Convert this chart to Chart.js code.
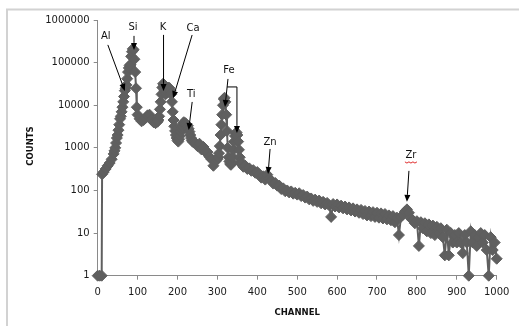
<!DOCTYPE html>
<html>
<head>
<meta charset="utf-8">
<script src="https://cdn.jsdelivr.net/npm/chart.js@4.4.1/dist/chart.umd.min.js"></script>
<style>
  body { margin: 0; background: #fff; }
  canvas { display: block; }
</style>
</head>
<body>
<canvas id="spectrum" width="519" height="326"></canvas>
<script>
// channel numbers and counts (denser around the peaks)
const channels = [
    0, 5, 10, 11, 15, 20, 25, 30, 35,
    40, 42, 44, 46, 48, 50, 52, 54, 56, 58, 60, 62, 64, 66, 68, 70,
    72, 74, 76, 78, 80, 82, 84, 86, 88, 90, 92, 94, 96, 98, 100,
    105, 110, 115, 120, 125, 130, 135, 140, 145,
    150, 152, 154, 156, 158, 160, 162, 164, 166, 168, 170, 172, 174, 176, 178, 180,
    182, 184, 186, 188, 190, 192, 194, 196, 198, 200, 202, 204, 206, 208, 210,
    212, 214, 216, 218, 220, 222, 224, 226, 228, 230, 232, 234, 236, 238, 240,
    245, 250, 255, 260, 265, 270, 275, 280, 285, 290, 295,
    300, 302, 304, 306, 308, 310, 312, 314, 316, 318, 320, 322, 324, 326, 328, 330,
    332, 334, 336, 338, 340, 342, 344, 346, 348, 350, 352, 354, 356, 358, 360,
    365, 370, 375, 380, 385, 390, 395, 400,
    405, 410, 415, 420, 425, 430, 435, 440, 445, 450,
    455, 460, 465, 470, 475, 480, 485, 490, 495, 500,
    505, 510, 515, 520, 525, 530, 535, 540, 545, 550,
    555, 560, 565, 570, 575, 580, 585, 590, 595, 600,
    605, 610, 615, 620, 625, 630, 635, 640, 645, 650,
    655, 660, 665, 670, 675, 680, 685, 690, 695, 700,
    705, 710, 715, 720, 725, 730, 735, 740, 745, 750,
    755, 760, 765, 770, 775, 780, 785, 790, 795, 800,
    805, 810, 815, 820, 825, 830, 835, 840, 845, 850,
    855, 860, 865, 870, 875, 880, 885, 890, 895, 900,
    905, 910, 915, 920, 925, 930, 935, 940, 945, 950,
    955, 960, 965, 970, 975, 980, 985, 990, 995, 1000
];
const counts = [
    1, 1, 1, 240, 270, 320, 380, 440, 540,
    720, 850, 1000, 1300, 1700, 2000, 2600, 3500, 4800, 5500, 7000, 9000, 12000, 16000, 22000, 25000,
    30000, 42000, 60000, 75000, 85000, 90000, 140000, 180000, 210000, 200000, 120000, 60000, 25000, 9000, 6000,
    4800, 4200, 4500, 5000, 5800, 6000, 4600, 4000, 3800,
    4100, 4500, 5500, 8000, 12000, 18000, 26000, 32000, 30000, 22000, 18000, 19000, 22000, 24000, 26000, 25000,
    22000, 18000, 12000, 7000, 4500, 3200, 2500, 2000, 1700, 1500, 1400, 1600, 1900, 2400, 2800,
    3200, 3800, 4000, 3600, 3800, 3400, 3000, 3300, 2800, 2400, 2000, 1700, 1500, 1400, 1350,
    1300, 1100, 1250, 920, 1050, 800, 800, 620, 540, 380, 480,
    540, 600, 750, 1100, 2000, 3500, 6000, 10000, 14000, 15000, 12000, 6000, 2500, 1000, 600, 480,
    420, 400, 450, 600, 900, 1400, 1900, 2200, 2300, 2000, 1400, 900, 600, 480, 420,
    360, 380, 320, 330, 290, 300, 260, 270,
    240, 200, 215, 180, 235, 190, 170, 145, 150, 130,
    130, 108, 112, 96, 100, 90, 95, 84, 88, 80,
    86, 74, 78, 68, 72, 62, 65, 57, 61, 54,
    58, 50, 54, 47, 51, 45, 24, 48, 42, 47,
    40, 44, 38, 42, 36, 40, 34, 38, 32, 36,
    30, 35, 28, 33, 26, 32, 25, 31, 24, 30,
    23, 29, 22, 28, 21, 26, 20, 25, 18, 23,
    9, 24, 27, 32, 36, 30, 22, 20, 17, 19,
    5, 18, 13, 17, 11, 16, 10, 15, 9, 14,
    10, 13, 8, 3, 12, 3, 10, 6, 9, 6,
    10, 6, 3.4, 9, 6, 1, 11, 6, 9, 5,
    8, 10, 6, 9, 4, 1, 8, 4, 6, 2.5
];
const yTicks = [1, 10, 100, 1000, 10000, 100000, 1000000];

// element labels and where their arrows point (channel, counts)
const elements = ['Al', 'Si', 'K', 'Ca', 'Ti', 'Fe', 'Zn', 'Zr'];
const tipChannels = [68, 91, 165, 189, 228, 319, 427, 775];
const tipCounts = [21700, 199000, 21700, 14800, 2630, 9120, 244, 54];
const feBetaChannel = 349;
const feBetaCounts = 2240;

// pixel offsets from the tip: [tailDx, tailDy, textDx, textDy]
const arrowLayout = [
    [-17, -46, -19, -54],
    [0, -14, -1, -22],
    [0, -56, -0.5, -63],
    [19, -63, 20, -70],
    [3.5, -28, 2.5, -36],
    [3, -28, 4, -37],
    [2, -25, 2, -32],
    [2, -31, 4, -46]
];

const GREY = '#5f5f5f';
const AXIS = '#8a8a8a';
const FONT = 'DejaVu Sans';

const points = channels.map((c, i) => ({ x: c, y: counts[i] }));

function arrow(ctx, x1, y1, x2, y2) {
    const ang = Math.atan2(y2 - y1, x2 - x1);
    const len = 7, half = 3;
    const bx = x2 - Math.cos(ang) * len, by = y2 - Math.sin(ang) * len;
    ctx.beginPath();
    ctx.moveTo(x1, y1);
    ctx.lineTo(bx, by);
    ctx.stroke();
    ctx.beginPath();
    ctx.moveTo(x2, y2);
    ctx.lineTo(bx + Math.sin(ang) * half, by - Math.cos(ang) * half);
    ctx.lineTo(bx - Math.sin(ang) * half, by + Math.cos(ang) * half);
    ctx.closePath();
    ctx.fill();
}

const frame = {
    id: 'frame',
    beforeDraw(chart) {
        const ctx = chart.ctx;
        ctx.save();
        ctx.fillStyle = '#fff';
        ctx.fillRect(0, 0, chart.width, chart.height);
        ctx.strokeStyle = '#d2d2d2';
        ctx.lineWidth = 2;
        ctx.strokeRect(7, 9.5, 540, 400);
        ctx.restore();
    }
};

const labelsPlugin = {
    id: 'labels',
    afterDatasetsDraw(chart) {
        const ctx = chart.ctx;
        const xs = chart.scales.x, ys = chart.scales.y;
        const area = chart.chartArea;
        ctx.save();
        ctx.strokeStyle = '#000';
        ctx.lineWidth = 1;
        ctx.font = '10px ' + FONT;
        ctx.textAlign = 'center';
        ctx.textBaseline = 'middle';
        elements.forEach((name, i) => {
            const tx = xs.getPixelForValue(tipChannels[i]);
            const ty = ys.getPixelForValue(tipCounts[i]);
            const l = arrowLayout[i];
            ctx.fillStyle = '#000';
            arrow(ctx, tx + l[0], ty + l[1], tx, ty);
            ctx.fillStyle = '#111';
            ctx.fillText(name, tx + l[2], ty + l[3]);
            if (name === 'Fe') {
                // bracket over to the K-beta line
                const bx = xs.getPixelForValue(feBetaChannel);
                const by = ys.getPixelForValue(feBetaCounts);
                const hy = ty + l[1] + 8;
                const hx = tx + l[0] - (l[0] * 8 / -l[1]);
                ctx.beginPath();
                ctx.moveTo(hx, hy);
                ctx.lineTo(bx, hy);
                ctx.stroke();
                ctx.fillStyle = '#000';
                arrow(ctx, bx, hy, bx, by);
            }
            if (name === 'Zr') {
                // spell-check squiggle under the label
                const sx = tx + l[2] - 6, sy = ty + l[3] + 6;
                ctx.strokeStyle = '#e02a2a';
                ctx.beginPath();
                ctx.moveTo(sx, sy);
                for (let k = 1; k <= 6; k++) ctx.lineTo(sx + k * 2, sy + (k % 2 ? 1.2 : 0));
                ctx.stroke();
                ctx.strokeStyle = '#000';
            }
        });
        // axis titles
        ctx.fillStyle = '#111';
        ctx.font = 'bold 8.5px ' + FONT;
        ctx.fillText('CHANNEL', (area.left + area.right) / 2, 313);
        ctx.translate(31, 146);
        ctx.rotate(-Math.PI / 2);
        ctx.fillText('COUNTS', 0, 0);
        ctx.restore();
    }
};

new Chart(document.getElementById('spectrum'), {
    type: 'line',
    data: {
        datasets: [{
            data: points,
            borderColor: GREY,
            borderWidth: 2,
            tension: 0,
            pointStyle: 'rectRot',
            pointRadius: 5.5,
            pointBorderWidth: 1,
            pointBackgroundColor: GREY,
            pointBorderColor: GREY,
            clip: false
        }]
    },
    options: {
        responsive: false,
        devicePixelRatio: 1,
        animation: false,
        layout: { padding: { left: 0, top: 20, right: 22.3, bottom: 0 } },
        plugins: { legend: { display: false }, tooltip: { enabled: false } },
        scales: {
            x: {
                type: 'linear',
                min: 0,
                max: 1000,
                afterFit: (s) => { s.height = 50.3; },
                ticks: {
                    stepSize: 100,
                    color: '#1a1a1a',
                    font: { family: FONT, size: 10 },
                    padding: 7,
                    maxRotation: 0,
                    callback: (v) => String(v)
                },
                grid: { drawOnChartArea: false, tickLength: 4, color: AXIS },
                border: { color: AXIS }
            },
            y: {
                type: 'logarithmic',
                min: 1,
                max: 1000000,
                afterFit: (s) => { s.width = 97.7; },
                afterBuildTicks: (s) => { s.ticks = yTicks.map(v => ({ value: v })); },
                ticks: {
                    color: '#1a1a1a',
                    font: { family: FONT, size: 10 },
                    padding: 4,
                    callback: (v) => String(v)
                },
                grid: { drawOnChartArea: false, tickLength: 4, color: AXIS },
                border: { color: AXIS }
            }
        }
    },
    plugins: [frame, labelsPlugin]
});
</script>
</body>
</html>
